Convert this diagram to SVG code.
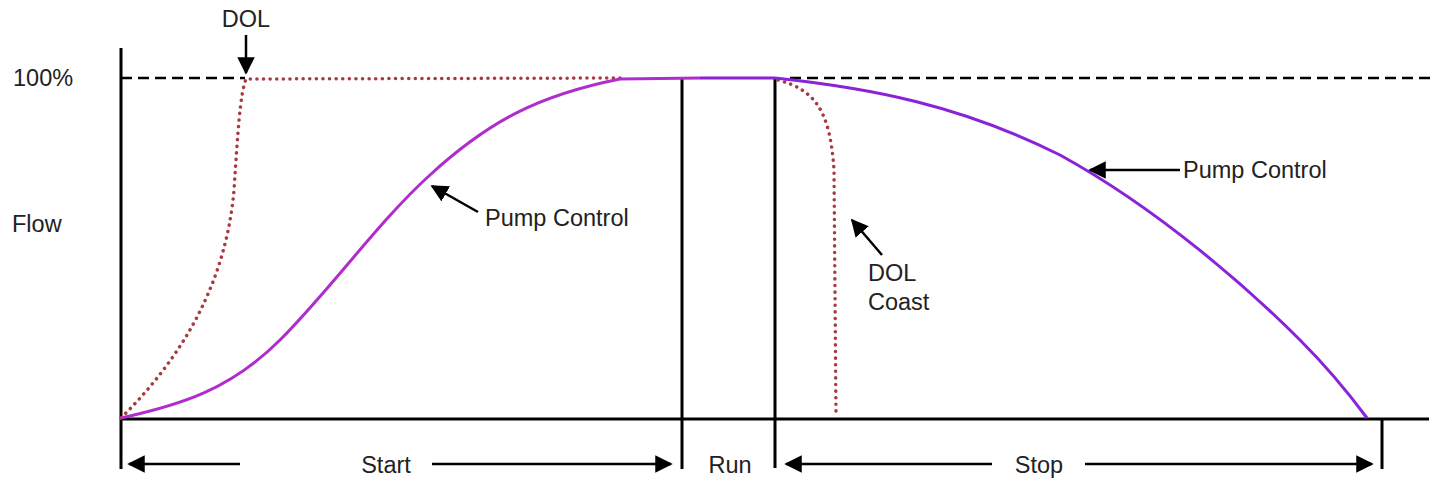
<svg xmlns="http://www.w3.org/2000/svg" width="1440" height="488" viewBox="0 0 1440 488">
<style>
.t{font-family:"Liberation Sans",Arial,sans-serif;font-size:23.5px;fill:#222}
.ax{stroke:#000;stroke-width:3;fill:none}
.dash{stroke:#000;stroke-width:2.5;stroke-dasharray:11 6;fill:none}
.dol{stroke:#a83a40;stroke-width:3.5;stroke-dasharray:0.1 6.5;stroke-linecap:round;fill:none}
.pc1{stroke:#b02ccc;stroke-width:3;fill:none}
.pc2{stroke:#8a22d8;stroke-width:3;fill:none}
.arr{stroke:#000;stroke-width:2.5;fill:none}
</style>
<defs>
<marker id="ah" viewBox="0 0 10 10" refX="9" refY="5" markerWidth="7" markerHeight="7" orient="auto-start-reverse" markerUnits="strokeWidth">
<path d="M0,0 L10,5 L0,10 z" fill="#000"/>
</marker>
</defs>
<rect width="1440" height="488" fill="#fff"/>
<g id="axes">
<line class="ax" x1="121" y1="48" x2="121" y2="469"/>
<line class="ax" x1="121" y1="419" x2="1429" y2="419"/>
<line class="ax" x1="682" y1="78" x2="682" y2="469"/>
<line class="ax" x1="775" y1="78" x2="775" y2="468"/>
<line class="ax" x1="1382" y1="419" x2="1382" y2="469"/>
<line class="dash" x1="121" y1="78" x2="245" y2="78"/>
<line class="dash" x1="790" y1="78" x2="1430" y2="78"/>
</g>
<g id="labels">
<text class="t" x="13" y="86">100%</text>
<text class="t" x="12" y="232">Flow</text>
<text class="t" x="246" y="27" text-anchor="middle">DOL</text>
</g>
<g id="curves">
<path class="dol" d="M121,418 C200,340 228,260 234,190 C238,130 240,95 246,79 L620,78"/>
<path class="dol" d="M778,80 C815,90 830,110 834,170 L836,416"/>
<path class="pc1" d="M121,418 C180,405 230,390 280,340 C330,290 380,220 430,175 C490,120 540,95 620,79 L700,78"/>
<path class="pc2" d="M700,78 L775,78 C870,88 960,105 1060,155 C1160,210 1250,290 1300,340 C1330,370 1350,395 1367,418"/>
</g>
<g id="connectors">
<line class="arr" x1="246" y1="35" x2="246" y2="73" marker-end="url(#ah)"/>
<line class="arr" x1="478" y1="212" x2="432" y2="186" marker-end="url(#ah)"/>
<line class="arr" x1="1180" y1="170" x2="1090" y2="170" marker-end="url(#ah)"/>
<line class="arr" x1="882" y1="255" x2="852" y2="220" marker-end="url(#ah)"/>
<line class="arr" x1="240" y1="464" x2="129" y2="464" marker-end="url(#ah)"/>
<line class="arr" x1="432" y1="464" x2="671" y2="464" marker-end="url(#ah)"/>
<line class="arr" x1="992" y1="464" x2="786" y2="464" marker-end="url(#ah)"/>
<line class="arr" x1="1085" y1="464" x2="1372" y2="464" marker-end="url(#ah)"/>
</g>
<g id="annotations">
<text class="t" x="485" y="226">Pump Control</text>
<text class="t" x="1183" y="178">Pump Control</text>
<text class="t" x="868" y="281">DOL</text>
<text class="t" x="868" y="310">Coast</text>
<text class="t" x="386" y="473" text-anchor="middle">Start</text>
<text class="t" x="730" y="473" text-anchor="middle">Run</text>
<text class="t" x="1039" y="473" text-anchor="middle">Stop</text>
</g>
</svg>
